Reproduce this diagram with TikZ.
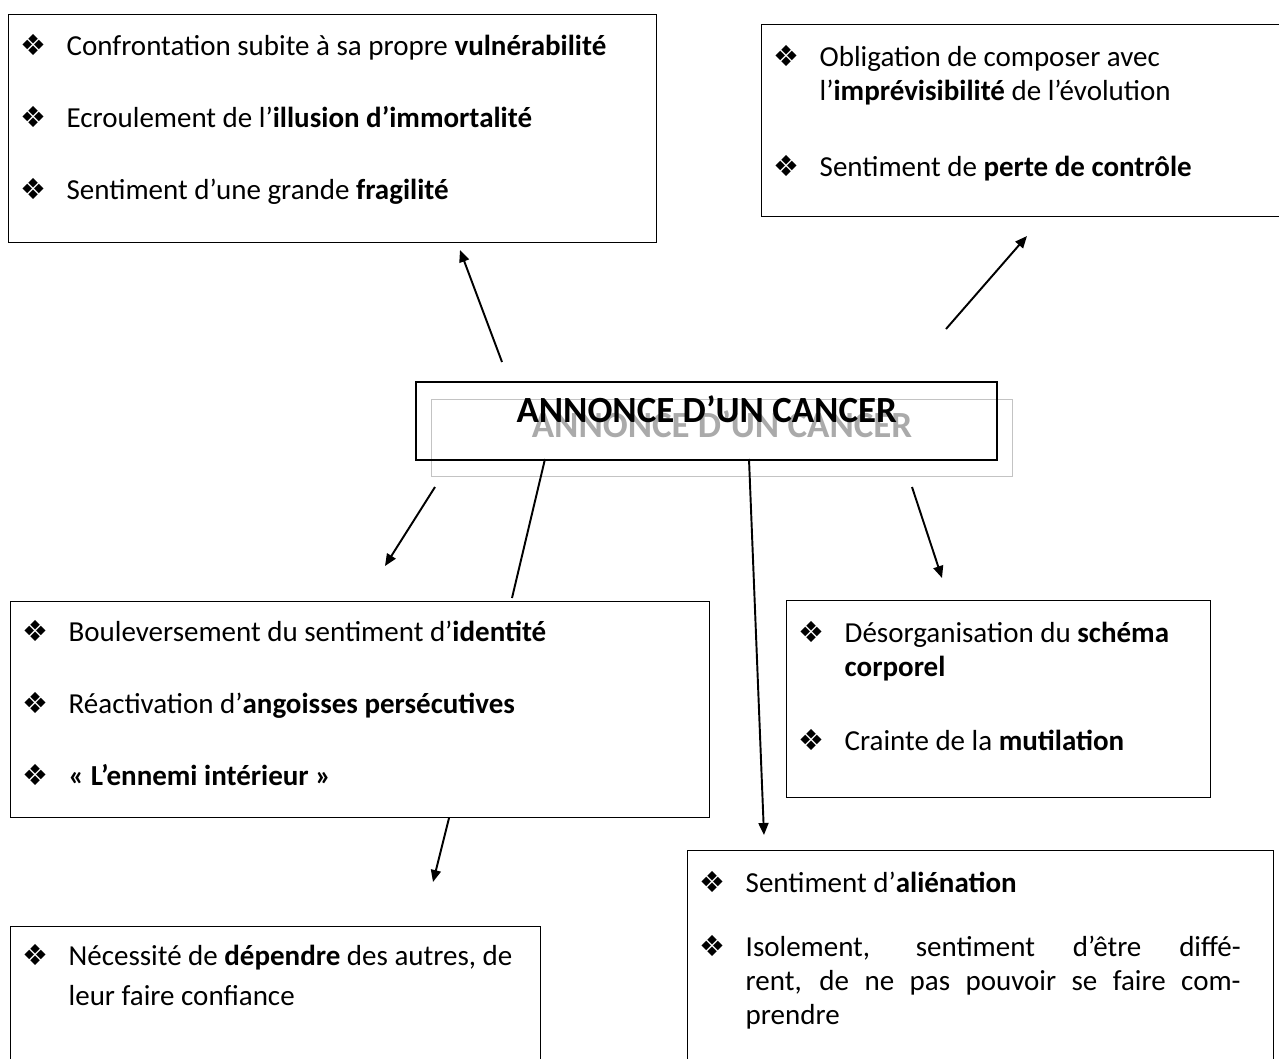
\documentclass[tikz,border=0pt]{standalone}
\usepackage{fontspec}
\setmainfont{Carlito}
\newfontfamily\symb{DejaVu Sans}
\usetikzlibrary{arrows.meta}
\definecolor{grisclair}{RGB}{170,170,170}
\definecolor{griscadre}{RGB}{195,195,195}
\newcommand\puce{\leavevmode\llap{\makebox[0.92cm][l]{\symb ❖}}}
\newcommand\marge{\leftskip=1.16cm\relax}

\begin{document}
\begin{tikzpicture}[x=0.02cm,y=-0.02cm]
\tikzstyle{bloc}=[draw,line width=0.8pt,anchor=north west,inner sep=0pt,align=flush left,font=\fontsize{16.5}{19.35}\selectfont]
\tikzstyle{titre}=[anchor=north west,inner sep=0pt,minimum width=11.62cm,font=\fontsize{21}{25}\selectfont\bfseries]
\tikzstyle{fleche}=[-{Triangle[length=0.24cm,width=0.2cm]},line width=1.1pt]
\tikzstyle{trait}=[line width=1.1pt]

\useasboundingbox (0,0) rectangle (1279,1059);

\node[titre,draw=griscadre,text=grisclair,line width=0.6pt,text height=0.76cm,text depth=0.78cm] (ombre) at (431,399) {ANNONCE D’UN CANCER};
\node[titre,draw,line width=1.4pt,text height=0.8cm,text depth=0.76cm] (annonce) at (415,381) {ANNONCE D’UN CANCER};

\node[bloc,text width=12.96cm,text height=0.82cm,text depth=3.74cm] (vulnerabilite) at (8,14)
 {\marge\puce Confrontation subite à sa propre \textbf{vulnérabilité}\\[0.76cm]
  \puce Ecroulement de l’\textbf{illusion d’immortalité}\\[0.76cm]
  \puce Sentiment d’une grande \textbf{fragilité}\par};
\node[bloc,text width=10.58cm,text height=0.84cm,text depth=3.0cm] (controle) at (761,24)
 {\marge\puce Obligation de composer avec\\
  l’\textbf{imprévisibilité} de l’évolution\\[0.84cm]
  \puce Sentiment de \textbf{perte de contrôle}\par};
\node[bloc,text width=13.98cm,text height=0.8cm,text depth=3.52cm] (identite) at (10,601)
 {\marge\puce Bouleversement du sentiment d’\textbf{identité}\\[0.76cm]
  \puce Réactivation d’\textbf{angoisses persécutives}\\[0.76cm]
  \puce \textbf{« L’ennemi intérieur »}\par};
\node[bloc,text width=8.48cm,text height=0.84cm,text depth=3.1cm] (corps) at (786,600)
 {\marge\puce Désorganisation du \textbf{schéma}\\
  \textbf{corporel}\\[0.8cm]
  \puce Crainte de la \textbf{mutilation}\par};
\node[bloc,text width=10.6cm,text height=0.78cm,text depth=2.1cm] (dependance) at (10,926)
 {\marge\puce Nécessité de \textbf{dépendre} des autres, de\\[0.12cm]
  leur faire confiance\par};
\node[bloc,align=justify,text width=11.72cm,text height=0.84cm,text depth=3.56cm] (alienation) at (687,850)
 {\marge\rightskip=0.66cm\relax\puce Sentiment d’\textbf{aliénation}\par\vspace{0.6cm}
  \puce Isolement, sentiment d’être diffé-\linebreak rent, de ne pas pouvoir se faire com-\linebreak prendre\par};

\coordinate (d1) at (502,362); \coordinate (p1) at (460,250);
\coordinate (d2) at (946,329); \coordinate (p2) at (1027,236);
\coordinate (d3) at (435,487); \coordinate (p3) at (385,566);
\coordinate (d4) at (545,459); \coordinate (p4) at (512,598);
\coordinate (d5) at (749,459); \coordinate (p5) at (764,835);
\coordinate (d6) at (912,487); \coordinate (p6) at (942,578);
\coordinate (d7) at (449,818); \coordinate (p7) at (433,882);

\draw[fleche] (d1) -- (p1);
\draw[fleche] (d2) -- (p2);
\draw[fleche] (d3) -- (p3);
\draw[trait] (d4) -- (p4);
\draw[fleche] (d5) -- (p5);
\draw[fleche] (d6) -- (p6);
\draw[fleche] (d7) -- (p7);
\end{tikzpicture}
\end{document}
